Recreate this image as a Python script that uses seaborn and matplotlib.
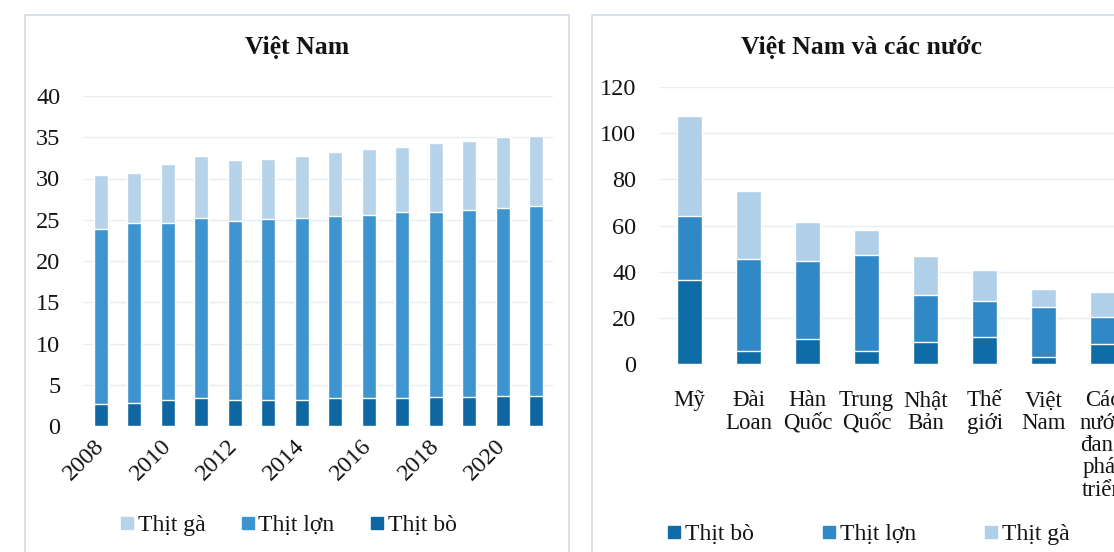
import numpy as np
import pandas as pd
import matplotlib.pyplot as plt
import seaborn as sns
from matplotlib.patches import Rectangle
from matplotlib.lines import Line2D

# values (kg / person / year)

years = list(range(2008, 2022))
vn_bo = [2.7, 2.8, 3.1, 3.4, 3.2, 3.2, 3.2, 3.4, 3.4, 3.4, 3.5, 3.5, 3.6, 3.6]
vn_lon = [21.2, 21.8, 21.5, 21.8, 21.7, 21.9, 22.0, 22.0, 22.2, 22.5, 22.5, 22.7, 22.8, 23.1]
vn_ga = [6.5, 6.1, 7.1, 7.5, 7.3, 7.3, 7.5, 7.8, 8.0, 7.9, 8.3, 8.3, 8.6, 8.5]

countries = ["Mỹ", "Đài\nLoan", "Hàn\nQuốc", "Trung\nQuốc", "Nhật\nBản",
             "Thế\ngiới", "Việt\nNam", "Các\nnước\nđang\nphát\ntriển"]
nuoc_bo = [36.6, 5.7, 10.8, 5.7, 9.6, 11.8, 3.0, 8.8]
nuoc_lon = [27.3, 39.7, 34.0, 41.7, 20.1, 15.6, 21.9, 11.6]
nuoc_ga = [43.4, 29.6, 16.6, 10.6, 17.1, 13.4, 7.7, 10.8]

# colours
c_bo, c_lon, c_ga = '#0e67a1', '#3d94cf', '#b6d3ea'
c_bo2, c_lon2, c_ga2 = '#106ca6', '#3088c6', '#b0cfe8'
grid_c = '#e7edf2'
frame_c = '#d8dee6'

sns.set_style("white")
plt.rcParams['font.family'] = ['Liberation Serif', 'DejaVu Serif']

W, H = 1114, 552
fig = plt.figure(figsize=(W / 100, H / 100), dpi=100)

# the two framed panels
fig.patches.append(Rectangle((25 / W, -0.1), (569 - 25) / W, 1.1 - 15 / H,
                             transform=fig.transFigure, fill=False, ec=frame_c, lw=1.3))
fig.patches.append(Rectangle((592 / W, -0.1), 0.6, 1.1 - 15 / H,
                             transform=fig.transFigure, fill=False, ec=frame_c, lw=1.3))

# ---- left : Viet Nam by year
df1 = pd.DataFrame({'nam': [str(y) for y in years], 'bo': vn_bo, 'lon': vn_lon, 'ga': vn_ga})
df1['bo_lon'] = df1['bo'] + df1['lon']
df1['tong'] = df1['bo_lon'] + df1['ga']

ax1 = fig.add_axes([84 / W, (H - 426) / H, 469 / W, 330 / H])
for col, c in [('tong', c_ga), ('bo_lon', c_lon), ('bo', c_bo)]:
    sns.barplot(data=df1, x='nam', y=col, color=c, saturation=1, width=0.42,
                errorbar=None, ax=ax1)
ax1.set_xlim(-0.5, len(years) - 0.5)
ax1.set_ylim(0, 40)
ax1.set_yticks(range(0, 41, 5))
ax1.set_xticks(range(0, len(years), 2))
ax1.set_xticklabels([str(y) for y in years[::2]], rotation=45, ha='right',
                    va='center', rotation_mode='anchor')
ax1.set_xlabel('')
ax1.set_ylabel('')

# ---- right : Viet Nam and other countries
df2 = pd.DataFrame({'nuoc': countries, 'bo': nuoc_bo, 'lon': nuoc_lon, 'ga': nuoc_ga})
df2['bo_lon'] = df2['bo'] + df2['lon']
df2['tong'] = df2['bo_lon'] + df2['ga']

ax2 = fig.add_axes([660 / W, (H - 364) / H, 472 / W, 277 / H])
for col, c in [('tong', c_ga2), ('bo_lon', c_lon2), ('bo', c_bo2)]:
    sns.barplot(data=df2, x='nuoc', y=col, color=c, saturation=1, width=0.41,
                errorbar=None, ax=ax2)
ax2.set_xlim(-0.5, len(countries) - 0.5)
ax2.set_ylim(0, 120)
ax2.set_yticks(range(0, 121, 20))
ax2.set_xlabel('')
ax2.set_ylabel('')

for ax in (ax1, ax2):
    sns.despine(ax=ax, left=True, bottom=True)
    ax.yaxis.grid(True, color=grid_c, lw=1)
    ax.set_axisbelow(True)
    ax.tick_params(axis='both', length=0, labelsize=17.5, colors='#141414')
    ax.tick_params(axis='y', pad=17)
ax1.tick_params(axis='x', pad=12)
ax2.tick_params(axis='x', pad=19, labelsize=16.5)
for lbl in ax2.get_xticklabels():
    lbl.set_linespacing(1.08)

# titles
fig.text(297 / W, 1 - 48 / H, 'Việt Nam', ha='center', va='center',
         fontsize=18.5, fontweight='bold', color='#141414')
fig.text(862 / W, 1 - 48 / H, 'Việt Nam và các nước', ha='center', va='center',
         fontsize=18.5, fontweight='bold', color='#141414')

# legends
def sq(c):
    return Line2D([], [], marker='s', ls='', color=c, markersize=8)

fig.legend([sq(c_ga), sq(c_lon), sq(c_bo)], ['Thịt gà', 'Thịt lợn', 'Thịt bò'],
           loc='center', bbox_to_anchor=(287 / W, 1 - 525 / H), ncol=3, frameon=False,
           fontsize=17, handletextpad=0.05, columnspacing=1.4, handlelength=0.8,
           labelcolor='#141414')
fig.legend([sq(c_bo2), sq(c_lon2), sq(c_ga2)], ['Thịt bò', 'Thịt lợn', 'Thịt gà'],
           loc='center', bbox_to_anchor=(867 / W, 1 - 534 / H), ncol=3, frameon=False,
           fontsize=17, handletextpad=0.05, columnspacing=2.8, handlelength=0.8,
           labelcolor='#141414')

fig.savefig('out.png', dpi=100)
